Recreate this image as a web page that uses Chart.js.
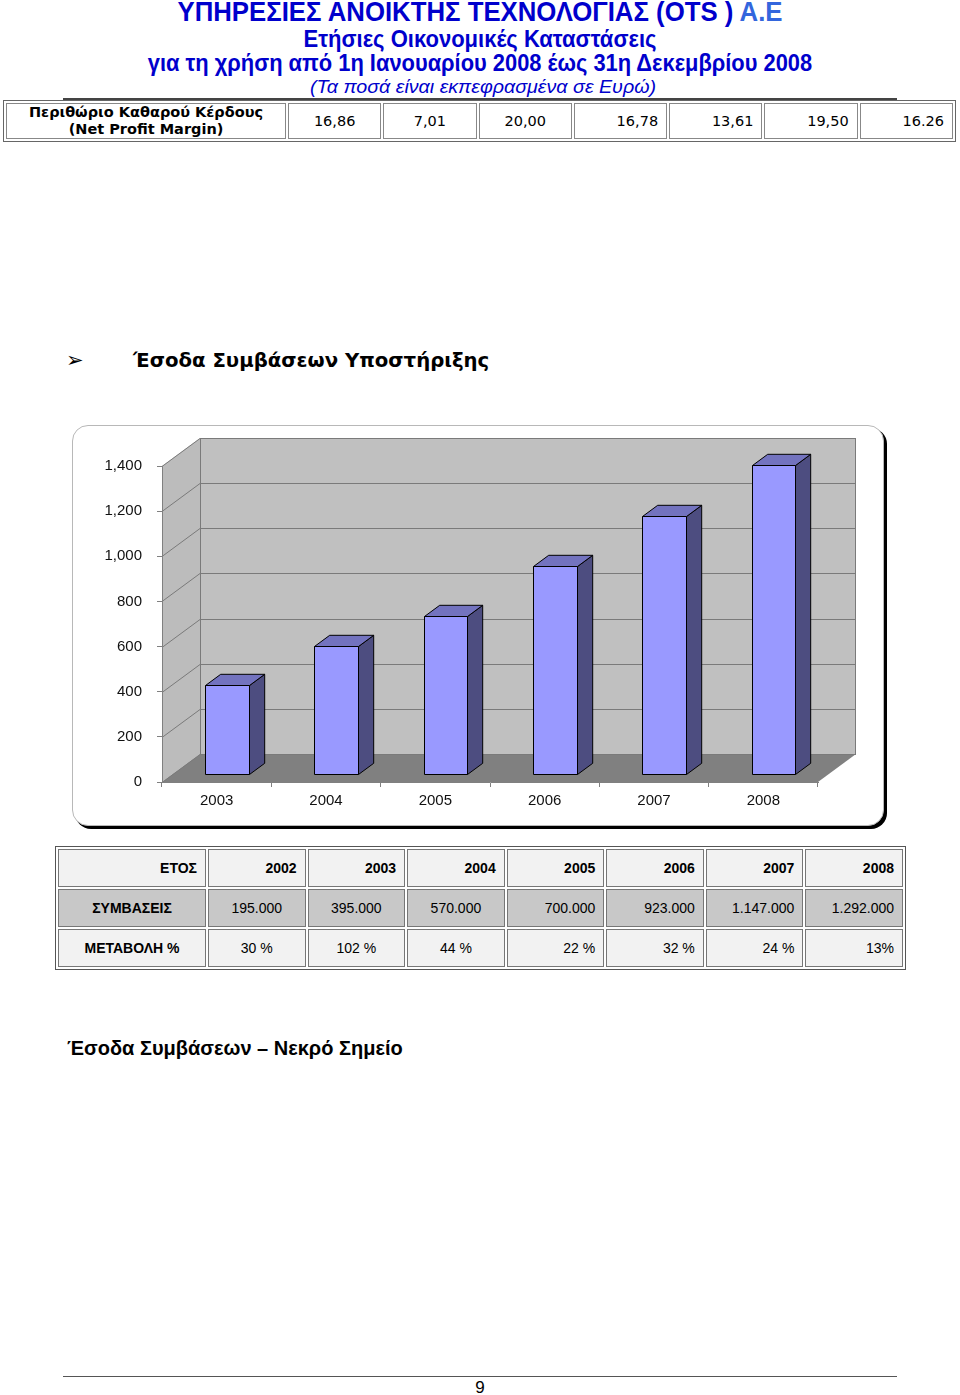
<!DOCTYPE html>
<html>
<head>
<meta charset="utf-8">
<script src="https://cdn.jsdelivr.net/npm/chart.js@4.4.1/dist/chart.umd.min.js"></script>
<style>
  body { margin:0; background:#fff; }
  #page { position:relative; width:960px; height:1395px; overflow:hidden; font-family:'Liberation Sans', Arial, sans-serif; color:#000; }
  .abs { position:absolute; }
  .hdr { left:0; width:960px; text-align:center; color:#0000cc; font-weight:bold; line-height:1; white-space:nowrap; transform-origin:480px 50%; }
  #margin { left:3px; top:100px; width:953px; table-layout:fixed; border-collapse:separate; border-spacing:2px; border:1px solid #666; font-family:'DejaVu Sans', Tahoma, sans-serif; font-size:14.5px; }
  #margin td { border:1px solid #888; height:32px; padding:0 8px; background:#fff; }
  #margin td.lbl { width:262px; text-align:center; font-weight:bold; font-size:14.5px; line-height:17px; }
  #contracts { left:55px; top:846px; width:851px; table-layout:fixed; border-collapse:separate; border-spacing:2px; border:1px solid #555; font-size:14px; }
  #contracts td { border:1px solid #777; height:36px; padding:0 8px; }
  #contracts td.first { width:130px; font-weight:bold; }
  #contracts tr.light td { background:#f2f2f2; }
  #contracts tr.dark td { background:#c8c8c8; }
  #frame { left:72px; top:425px; width:810px; height:399px; border:1px solid #b8b8b8; border-radius:16px; box-shadow:3px 3px 0 #000; background:#fff; }
</style>
</head>
<body>
<div id="page">
  <div class="abs hdr" style="top:-2px;font-size:28px;transform:scaleX(0.92);">ΥΠΗΡΕΣΙΕΣ ΑΝΟΙΚΤΗΣ ΤΕΧΝΟΛΟΓΙΑΣ (OTS ) <span style="color:#3366dd">Α.Ε</span></div>
  <div class="abs hdr" style="top:28px;font-size:23px;transform:scaleX(0.957);">Ετήσιες Οικονομικές Καταστάσεις</div>
  <div class="abs hdr" style="top:52px;font-size:23px;transform:scaleX(0.951);">για τη χρήση από 1η Ιανουαρίου 2008 έως 31η Δεκεμβρίου 2008</div>
  <div class="abs hdr" style="top:77px;left:3px;font-size:19px;font-weight:normal;font-style:italic;transform:scaleX(1.035);">(Τα ποσά είναι εκπεφρασμένα σε Ευρώ)</div>
  <div class="abs" style="left:63px;top:98px;width:834px;height:2px;background:#444;"></div>

  <table id="margin" class="abs"><tr id="marginRow"></tr></table>

  <div class="abs" style="left:66px;top:348px;font-family:'DejaVu Sans',sans-serif;font-size:21px;">➢</div>
  <div class="abs" style="left:133px;top:349px;font-family:'DejaVu Sans',Verdana,sans-serif;font-size:19.7px;font-weight:bold;white-space:nowrap;">Έσοδα Συμβάσεων Υποστήριξης</div>

  <div id="frame" class="abs"></div>
  <canvas id="chart" class="abs" width="814" height="402" style="left:72px;top:425px;"></canvas>

  <table id="contracts" class="abs"></table>

  <div class="abs" style="left:67px;top:1037px;font-size:20px;font-weight:bold;white-space:nowrap;">Έσοδα Συμβάσεων – Νεκρό Σημείο</div>

  <div class="abs" style="left:63px;top:1376px;width:834px;height:1px;background:#555;"></div>
  <div class="abs" style="left:0;width:960px;top:1378px;text-align:center;font-size:17px;">9</div>
</div>

<script>
// net profit margin row
const marginLabel = ['Περιθώριο Καθαρού Κέρδους', '(Net Profit Margin)'];
const marginValues = ['16,86', '7,01', '20,00', '16,78', '13,61', '19,50', '16.26'];

// contracts table
const tableYears = ['2002', '2003', '2004', '2005', '2006', '2007', '2008'];
const tableContracts = ['195.000', '395.000', '570.000', '700.000', '923.000', '1.147.000', '1.292.000'];
const tableChange = ['30 %', '102 %', '44 %', '22 %', '32 %', '24 %', '13%'];

// chart (values in thousands)
const years = ['2003', '2004', '2005', '2006', '2007', '2008'];
const revenue = [395, 570, 700, 923, 1147, 1370];
const yMax = 1400;
const yStep = 200;

// first three value cells are centred, the rest right aligned (as in the scan)
const alignOf = i => i < 3 ? 'center' : 'right';

document.getElementById('marginRow').innerHTML =
  '<td class="lbl">' + marginLabel.join('<br>') + '</td>' +
  marginValues.map((v, i) => '<td style="text-align:' + alignOf(i) + '">' + v + '</td>').join('');

function row(cls, first, cells, align, firstAlign, bold) {
  return '<tr class="' + cls + '"><td class="first" style="text-align:' + firstAlign + '">' + first + '</td>' +
    cells.map((c, i) => '<td style="text-align:' + align(i) + (bold ? ';font-weight:bold' : '') + '">' + c + '</td>').join('') + '</tr>';
}
document.getElementById('contracts').innerHTML =
  row('light', 'ΕΤΟΣ', tableYears, () => 'right', 'right', true) +
  row('dark', 'ΣΥΜΒΑΣΕΙΣ', tableContracts, alignOf, 'center', false) +
  row('light', 'ΜΕΤΑΒΟΛΗ %', tableChange, alignOf, 'center', false);

// oblique 3d look
const depth = { dx: 38, dy: -28 };
const barFront = 0.27, barDepth = 0.4;

const walls3d = {
  id: 'walls3d',
  beforeDraw(chart) {
    const { ctx, chartArea: a, scales: { y } } = chart;
    const L = a.left, R = a.right;
    const T = y.getPixelForValue(yMax), B = y.getPixelForValue(0);
    const dx = depth.dx, dy = depth.dy;
    ctx.save();
    ctx.fillStyle = '#c0c0c0';
    ctx.fillRect(L + dx, T + dy, R - L, B - T);
    ctx.fillStyle = '#bcbcbc';
    ctx.beginPath();
    ctx.moveTo(L, T); ctx.lineTo(L + dx, T + dy); ctx.lineTo(L + dx, B + dy); ctx.lineTo(L, B);
    ctx.closePath(); ctx.fill();
    ctx.fillStyle = '#808080';
    ctx.beginPath();
    ctx.moveTo(L, B); ctx.lineTo(L + dx, B + dy); ctx.lineTo(R + dx, B + dy); ctx.lineTo(R, B);
    ctx.closePath(); ctx.fill();
    ctx.strokeStyle = '#7a7a7a';
    ctx.lineWidth = 1;
    for (let v = 0; v <= yMax; v += yStep) {
      const py = Math.round(y.getPixelForValue(v)) + 0.5;
      ctx.beginPath();
      ctx.moveTo(L, py); ctx.lineTo(L + dx, py + dy); ctx.lineTo(R + dx, py + dy);
      ctx.stroke();
    }
    ctx.beginPath();
    ctx.moveTo(L + dx + 0.5, T + dy); ctx.lineTo(L + dx + 0.5, B + dy);
    ctx.moveTo(R + dx - 0.5, T + dy); ctx.lineTo(R + dx - 0.5, B + dy);
    ctx.stroke();
    ctx.restore();
  },
  afterDatasetsDraw(chart) {
    const { ctx } = chart;
    const meta = chart.getDatasetMeta(0);
    const ox = depth.dx * barFront, oy = depth.dy * barFront;
    const bx = depth.dx * barDepth, by = depth.dy * barDepth;
    ctx.save();
    ctx.strokeStyle = '#000';
    ctx.lineWidth = 1;
    ctx.lineJoin = 'round';
    meta.data.forEach(bar => {
      const p = bar.getProps(['x', 'y', 'base', 'width'], true);
      const x0 = Math.round(p.x - p.width / 2 + ox) + 0.5, x1 = Math.round(p.x + p.width / 2 + ox) + 0.5;
      const y0 = Math.round(p.y + oy) + 0.5, y1 = Math.round(p.base + oy) + 0.5;
      const poly = (pts, fill) => {
        ctx.beginPath();
        ctx.moveTo(pts[0][0], pts[0][1]);
        pts.slice(1).forEach(q => ctx.lineTo(q[0], q[1]));
        ctx.closePath();
        ctx.fillStyle = fill; ctx.fill(); ctx.stroke();
      };
      poly([[x1, y0], [x1 + bx, y0 + by], [x1 + bx, y1 + by], [x1, y1]], '#4d4d80');
      poly([[x0, y0], [x0 + bx, y0 + by], [x1 + bx, y0 + by], [x1, y0]], '#7373bf');
      poly([[x0, y0], [x1, y0], [x1, y1], [x0, y1]], '#9999ff');
    });
    ctx.restore();
  }
};

new Chart(document.getElementById('chart'), {
  type: 'bar',
  data: {
    labels: years,
    datasets: [{ data: revenue, backgroundColor: 'rgba(0,0,0,0)', borderWidth: 0,
      categoryPercentage: 1, barPercentage: 0.4 }]
  },
  options: {
    responsive: false,
    animation: false,
    locale: 'en-US',
    layout: { padding: { top: 41, right: 68, bottom: 15, left: 0 } },
    plugins: { legend: { display: false }, tooltip: { enabled: false } },
    scales: {
      x: {
        afterFit: s => { s.height = 30; },
        grid: { drawOnChartArea: false, tickLength: 5, color: '#808080' },
        border: { color: '#808080' },
        ticks: { padding: 5, color: '#111', font: { family: "'Liberation Sans', Arial", size: 15 } }
      },
      y: {
        min: 0, max: yMax,
        afterFit: s => { s.width = 90; },
        grid: { drawOnChartArea: false, tickLength: 5, color: '#808080' },
        border: { color: '#808080' },
        ticks: { stepSize: yStep, padding: 15, color: '#111', font: { family: "'Liberation Sans', Arial", size: 15 } }
      }
    }
  },
  plugins: [walls3d]
});
</script>
</body>
</html>
